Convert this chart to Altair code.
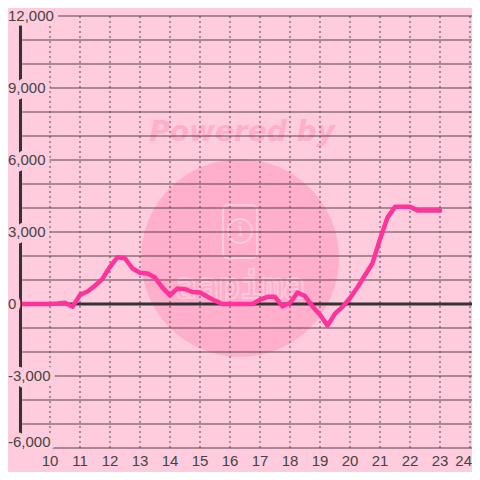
import altair as alt
import pandas as pd

# ---- data ----
hours = [9.0, 9.25, 9.5, 9.75, 10.0, 10.25, 10.5, 10.75, 11.0, 11.25, 11.5, 11.75,
         12.0, 12.25, 12.5, 12.75, 13.0, 13.25, 13.5, 13.75, 14.0, 14.25, 14.5, 14.75,
         15.0, 15.25, 15.5, 15.75, 16.0, 16.25, 16.5, 16.75, 17.0, 17.25, 17.5, 17.75,
         18.0, 18.25, 18.5, 18.75, 19.0, 19.25, 19.5, 19.75, 20.0, 20.25, 20.5, 20.75,
         21.0, 21.25, 21.5, 21.75, 22.0, 22.25, 22.5, 22.75, 23.0]
values = [0, 0, 0, 0, 0, 20, 50, -120, 380, 520, 760, 1050,
          1550, 1950, 1900, 1480, 1300, 1270, 1100, 680, 360, 650, 620, 500,
          480, 300, 140, 0, 0, 0, 0, 0, 180, 300, 300, -100,
          40, 480, 330, -100, -450, -900, -400, -120, 250, 700, 1200, 1700,
          2700, 3600, 4050, 4050, 4050, 3900, 3900, 3900, 3900]

x_ticks = list(range(10, 25))
y_grid = [v for v in range(-6000, 13000, 1000) if v != 0]
y_label_values = [12000, 9000, 6000, 3000, 0, -3000, -6000]
y_label_texts = ["12,000", "9,000", "6,000", "3,000", "0", "-3,000", "-6,000"]

BG = "#FFCCDD"
WM = "#FFAFCC"
WM2 = "#FFCADB"
GRID = "#5A4250"
TXT = "#444444"
LINE = "#FF3399"

W = 452
H = 432
X_DOMAIN = [9.0, 9.0 + W / 30]
Y_DOMAIN = [-6000, 12000]

xs = alt.Scale(domain=X_DOMAIN, nice=False, zero=False)
ys = alt.Scale(domain=Y_DOMAIN, nice=False, zero=False)

df = pd.DataFrame({"h": hours, "v": values})
df_xt = pd.DataFrame({"h": x_ticks, "lab": [str(t) for t in x_ticks]})
df_yg = pd.DataFrame({"v": y_grid})
df_zero = pd.DataFrame({"v": [0]})
df_yl = pd.DataFrame({"v": y_label_values, "lab": y_label_texts})
one = pd.DataFrame({"a": [0]})

# watermark
wm_circle = alt.Chart(one).mark_circle(color=WM, opacity=1, size=198 * 198).encode(
    x=alt.value(220), y=alt.value(242))
wm_text = alt.Chart(one).mark_text(
    text="Powered by", font="DejaVu Sans", fontSize=28, fontWeight="bold",
    fontStyle="italic", color=WM, align="center", baseline="alphabetic").encode(
    x=alt.value(222), y=alt.value(125))
wm_phone = alt.Chart(one).mark_rect(
    fillOpacity=0, stroke=WM2, strokeWidth=2, cornerRadius=5).encode(
    x=alt.value(203), x2=alt.value(237), y=alt.value(189), y2=alt.value(242))
wm_ring = alt.Chart(one).mark_point(
    shape="circle", size=24 * 24, stroke=WM2, strokeWidth=2, filled=False, opacity=1).encode(
    x=alt.value(220), y=alt.value(215))
wm_i = alt.Chart(one).mark_text(
    text="i", font="DejaVu Serif", fontSize=18, color=WM2,
    align="center", baseline="middle").encode(x=alt.value(220), y=alt.value(215))
wm_logo = alt.Chart(one).mark_text(
    text="aapima", font="DejaVu Sans Mono", fontSize=36, fontWeight="bold",
    fillOpacity=0, stroke=WM2, strokeWidth=1.6, align="center",
    baseline="alphabetic").encode(x=alt.value(220), y=alt.value(282))

# grid
hgrid = alt.Chart(df_yg).mark_rule(color=GRID, strokeWidth=1).encode(
    y=alt.Y("v:Q", scale=ys, axis=None), x=alt.value(0), x2=alt.value(W))
vgrid = alt.Chart(df_xt).mark_rule(color=GRID, strokeWidth=1, strokeDash=[2, 3]).encode(
    x=alt.X("h:Q", scale=xs, axis=None), y=alt.value(0), y2=alt.value(H))
zero_line = alt.Chart(df_zero).mark_rule(color="#333333", strokeWidth=3).encode(
    y=alt.Y("v:Q", scale=ys, axis=None), x=alt.value(0), x2=alt.value(W))

series = alt.Chart(df).mark_line(
    color=LINE, strokeWidth=4.5, strokeJoin="round", strokeCap="round").encode(
    x=alt.X("h:Q", scale=xs, axis=None), y=alt.Y("v:Q", scale=ys, axis=None))

y_axis = alt.Chart(one).mark_rule(color="#333333", strokeWidth=3).encode(
    x=alt.value(0.5), y=alt.value(0), y2=alt.value(H))


# y labels with background halo (bottom label lifted a little, as in the reference)
def ylabels(filt, dy):
    base = alt.Chart(df_yl).transform_filter(filt)
    halo = base.mark_text(
        font="Liberation Sans", fontSize=15, align="left", baseline="middle", dy=dy,
        fill=BG, stroke=BG, strokeWidth=9, strokeJoin="round").encode(
        y=alt.Y("v:Q", scale=ys, axis=None), x=alt.value(-12), text="lab:N")
    txt = base.mark_text(
        font="Liberation Sans", fontSize=15, align="left", baseline="middle", dy=dy,
        color=TXT).encode(
        y=alt.Y("v:Q", scale=ys, axis=None), x=alt.value(-12), text="lab:N")
    return halo, txt


ylab_halo, ylab = ylabels("datum.v > -6000", 0)
ylab_halo2, ylab2 = ylabels("datum.v <= -6000", -6)

xlab = alt.Chart(df_xt).transform_filter("datum.h < 24").mark_text(
    font="Liberation Sans", fontSize=15, align="center", baseline="middle",
    color=TXT).encode(
    x=alt.X("h:Q", scale=xs, axis=None), y=alt.value(444.5), text="lab:N")
xlab_last = alt.Chart(df_xt).transform_filter("datum.h >= 24").mark_text(
    font="Liberation Sans", fontSize=15, align="right", baseline="middle",
    color=TXT).encode(
    x=alt.value(W), y=alt.value(444.5), text="lab:N")

chart = alt.layer(
    wm_circle, wm_text, wm_phone, wm_ring, wm_i, wm_logo,
    hgrid, vgrid, zero_line, series, y_axis,
    ylab_halo, ylab_halo2, ylab, ylab2, xlab, xlab_last
).properties(
    width=W, height=H,
    padding={"left": 12, "top": 8, "right": 0, "bottom": 24},
    autosize=alt.AutoSizeParams(type="none"),
    background=BG,
).configure_view(stroke=None)

chart.save("out.html", embed_options={"renderer": "svg", "actions": False})
